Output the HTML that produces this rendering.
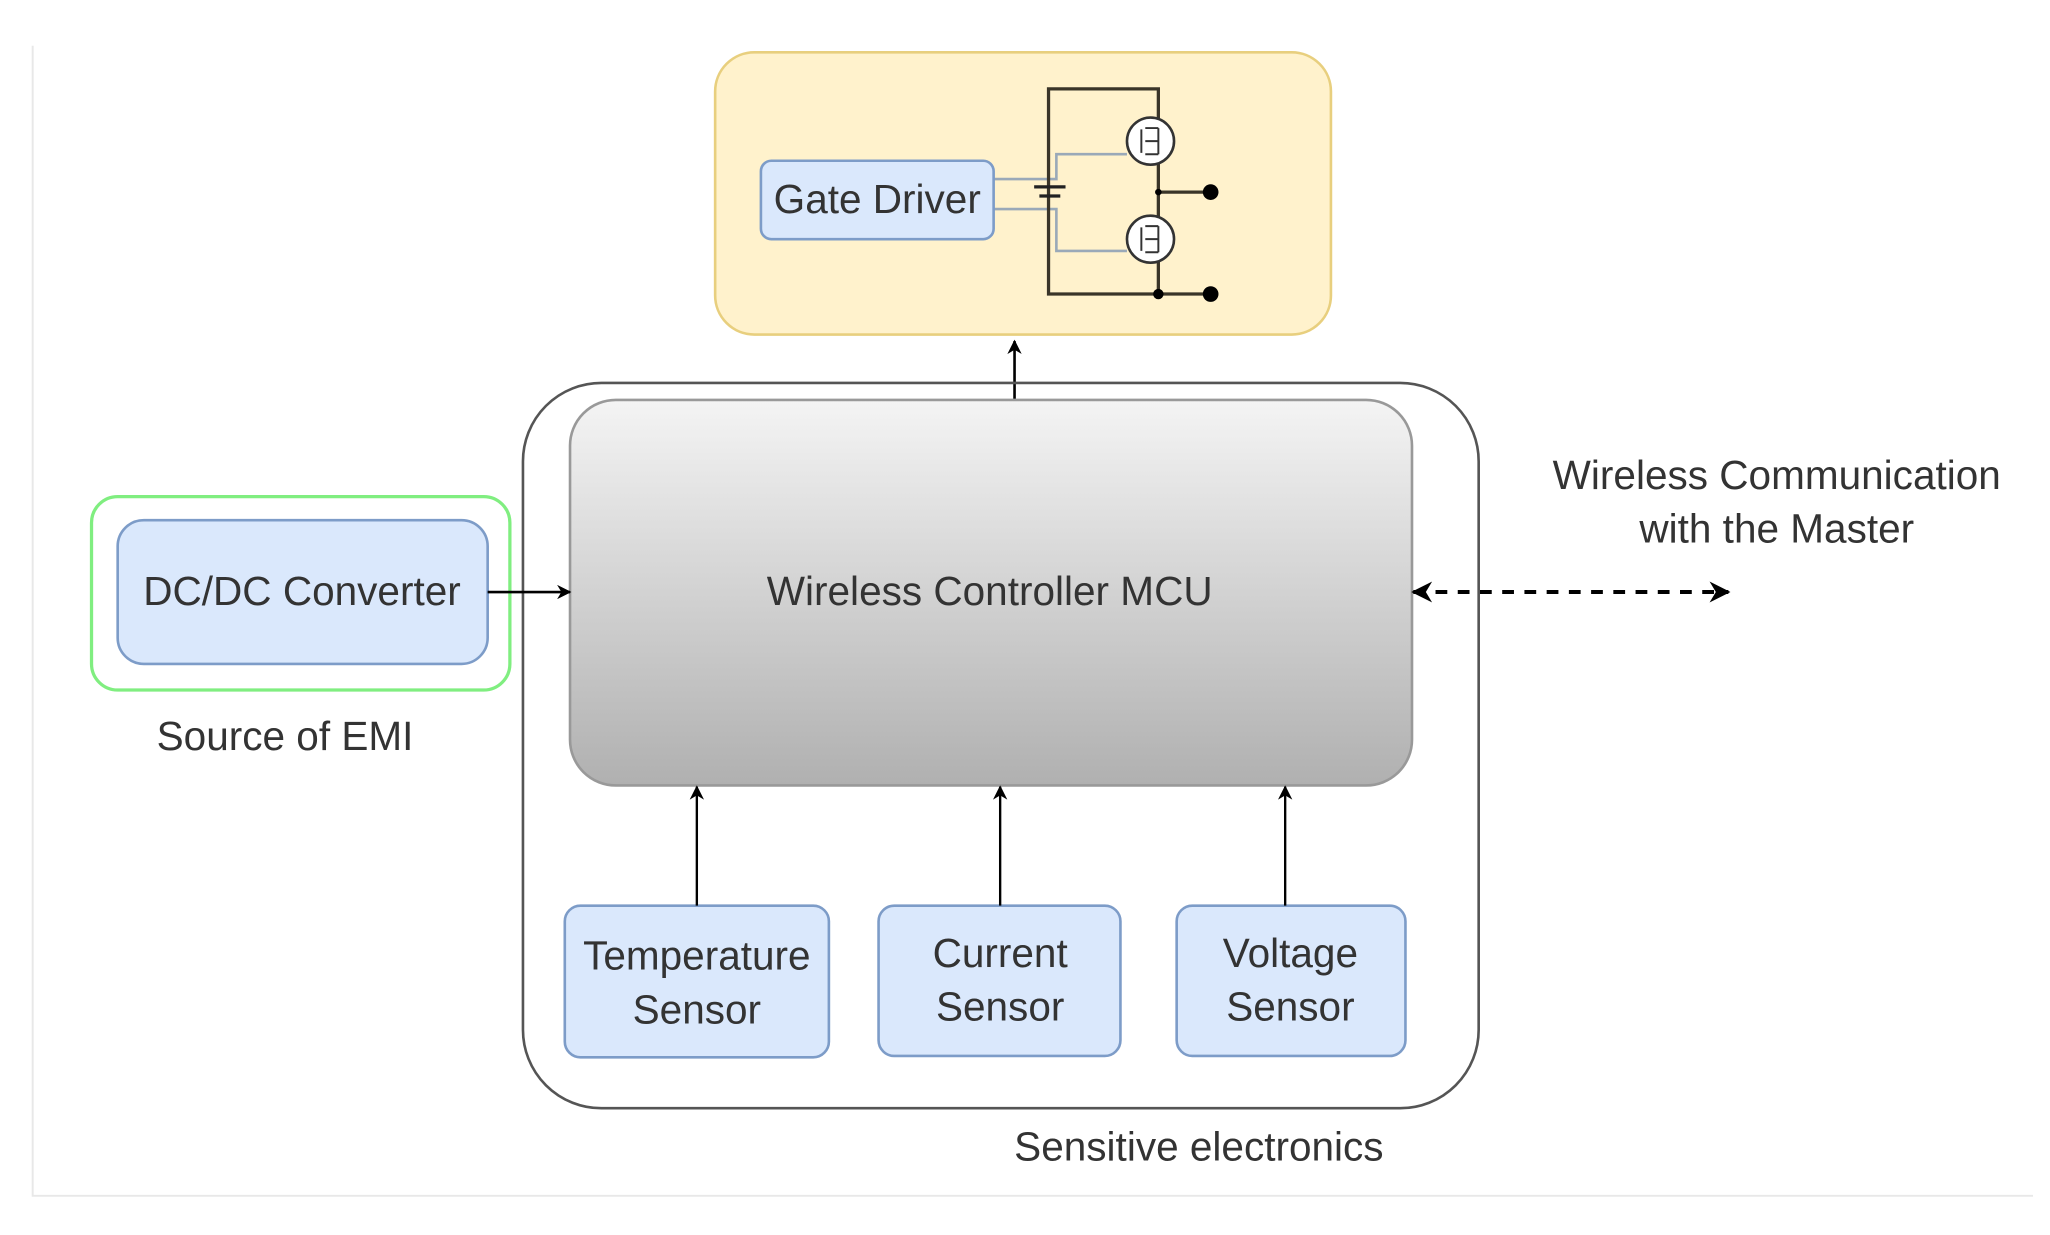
<!DOCTYPE html>
<html><head><meta charset="utf-8"><style>
html,body{margin:0;padding:0;background:#fff;}
svg{display:block;}
text{font-family:"Liberation Sans",sans-serif;fill:#333;}
</style></head><body>
<svg width="2050" height="1235" viewBox="0 0 1568 945" preserveAspectRatio="none" xmlns="http://www.w3.org/2000/svg">
<defs>
<linearGradient id="g" x1="0" y1="0" x2="0" y2="1">
<stop offset="0" stop-color="#f4f4f4"/><stop offset="1" stop-color="#b0b0b0"/>
</linearGradient>
<marker id="a" viewBox="0 0 10 10" refX="9" refY="5" markerWidth="11" markerHeight="11" orient="auto-start-reverse" markerUnits="userSpaceOnUse"><path d="M0,0 L10,5 L0,10 L3,5z" fill="#000"/></marker>
<marker id="b" viewBox="0 0 10 10" refX="9" refY="5" markerWidth="16" markerHeight="16" orient="auto-start-reverse" markerUnits="userSpaceOnUse"><path d="M0,0 L10,5 L0,10 L3,5z" fill="#000"/></marker>
</defs>
<rect width="1568" height="945" fill="#fff"/>
<path d="M25,35 V915 H1555" fill="none" stroke="#e8e8e8" stroke-width="1.5"/>

<rect x="547" y="40" width="471" height="216" rx="30" fill="#fff2cc" stroke="#e8cf7e" stroke-width="2"/>
<path d="M760,137 H808 V118 H862 M760,160 H808 V192 H862" fill="none" stroke="#9aa9b8" stroke-width="2"/>
<rect x="582" y="123" width="178" height="60" rx="8" fill="#dae8fc" stroke="#7d9cc8" stroke-width="2"/>
<text x="671" y="163" font-size="31" text-anchor="middle">Gate Driver</text>
<path d="M802,68 H886 V225 H802 Z" fill="none" stroke="#3a3528" stroke-width="2.5"/>
<path d="M791,143 H815 M795,150 H811" stroke="#222" stroke-width="2.5"/>
<path d="M886,147 H926 M886,225 H926" stroke="#3a3528" stroke-width="2.5"/>
<circle cx="926" cy="147" r="6" fill="#000"/><circle cx="926" cy="225" r="6" fill="#000"/>
<circle cx="886" cy="147" r="2.5" fill="#000"/><circle cx="886" cy="225" r="4" fill="#000"/>
<g fill="#fff" stroke="#333" stroke-width="2">
<circle cx="880" cy="108" r="18"/><circle cx="880" cy="183" r="18"/>
</g>
<g fill="none" stroke="#333" stroke-width="1.5">
<path d="M873,99 V117 M876,98 H886 M876,108 H886 M876,118 H886 M886,98 V118"/>
<path d="M873,174 V192 M876,173 H886 M876,183 H886 M876,193 H886 M886,173 V193"/>
</g>

<line x1="776" y1="306" x2="776" y2="261" stroke="#000" stroke-width="2" marker-end="url(#a)"/>

<rect x="400" y="293" width="731" height="555" rx="60" fill="none" stroke="#555" stroke-width="2"/>
<rect x="436" y="306" width="644" height="295" rx="35" fill="url(#g)" stroke="#999" stroke-width="2"/>
<text x="757" y="463" font-size="31" text-anchor="middle">Wireless Controller MCU</text>

<rect x="70" y="380" width="320" height="148" rx="20" fill="#fff" stroke="#80ee80" stroke-width="2.5"/>
<rect x="90" y="398" width="283" height="110" rx="20" fill="#dae8fc" stroke="#7d9cc8" stroke-width="2"/>
<text x="231" y="463" font-size="31" text-anchor="middle">DC/DC Converter</text>
<line x1="373" y1="453" x2="436" y2="453" stroke="#000" stroke-width="2" marker-end="url(#a)"/>
<text x="218" y="574" font-size="31" text-anchor="middle">Source of EMI</text>

<g fill="#dae8fc" stroke="#7d9cc8" stroke-width="2">
<rect x="432" y="693" width="202" height="116" rx="12"/>
<rect x="672" y="693" width="185" height="115" rx="12"/>
<rect x="900" y="693" width="175" height="115" rx="12"/>
</g>
<g font-size="31" text-anchor="middle">
<text x="533" y="742">Temperature</text><text x="533" y="783">Sensor</text>
<text x="765" y="740">Current</text><text x="765" y="781">Sensor</text>
<text x="987" y="740">Voltage</text><text x="987" y="781">Sensor</text>
</g>
<g stroke="#000" stroke-width="1.8">
<line x1="533" y1="693" x2="533" y2="602" marker-end="url(#a)"/>
<line x1="765" y1="693" x2="765" y2="602" marker-end="url(#a)"/>
<line x1="983" y1="693" x2="983" y2="602" marker-end="url(#a)"/>
</g>

<line x1="1081" y1="453" x2="1322" y2="453" stroke="#000" stroke-width="3" stroke-dasharray="9,8" marker-start="url(#b)" marker-end="url(#b)"/>
<text x="1359" y="374" font-size="31" text-anchor="middle">Wireless Communication</text>
<text x="1359" y="415" font-size="31" text-anchor="middle">with the Master</text>
<text x="917" y="888" font-size="31" text-anchor="middle">Sensitive electronics</text>
</svg>
</body></html>
